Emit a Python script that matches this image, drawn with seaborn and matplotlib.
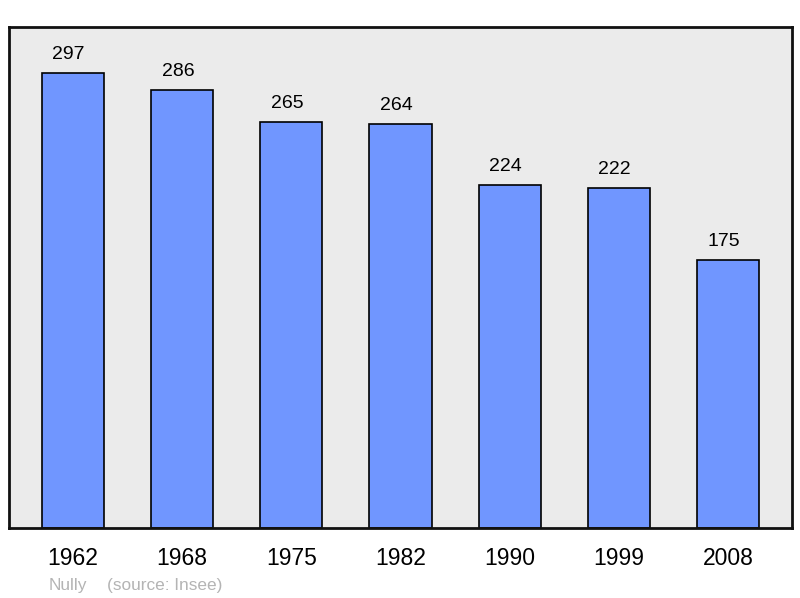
import pandas as pd
import matplotlib.pyplot as plt
import seaborn as sns

years = ['1962', '1968', '1975', '1982', '1990', '1999', '2008']
population = [297, 286, 265, 264, 224, 222, 175]
commune = 'Nully'
source = '(source: Insee)'

df = pd.DataFrame({'year': years, 'population': population})

sns.set_style('white')
plt.rcParams['font.family'] = ['Liberation Sans', 'DejaVu Sans']

fig = plt.figure(figsize=(8, 5.98), dpi=100)
ax = fig.add_axes([0.01125, 0.117, 0.97875, 0.8378])
ax.set_facecolor('#ebebeb')

sns.barplot(data=df, x='year', y='population', color='#7096ff', width=0.57,
            edgecolor='black', linewidth=1.2, saturation=1, ax=ax)

# value labels, slightly left of the bar centre like the original
for i, v in enumerate(population):
    ax.annotate(str(v), (i, v), xytext=(-3, 7), textcoords='offset points',
                ha='center', va='bottom', fontsize=14, color='black')

ax.set_xlim(-0.585, 6.585)
ax.set_ylim(0, 327)
ax.set_yticks([])
ax.set_xlabel('')
ax.set_ylabel('')
ax.tick_params(axis='x', length=0, pad=14, labelsize=16.5, labelcolor='black')
for s in ax.spines.values():
    s.set_visible(True)
    s.set_linewidth(2)
    s.set_color('#111111')

fig.text(0.061, 0.014, commune, fontsize=12.4, color='#b4b4b4')
fig.text(0.134, 0.014, source, fontsize=12.4, color='#b4b4b4')

fig.savefig('out.png', dpi=100)
